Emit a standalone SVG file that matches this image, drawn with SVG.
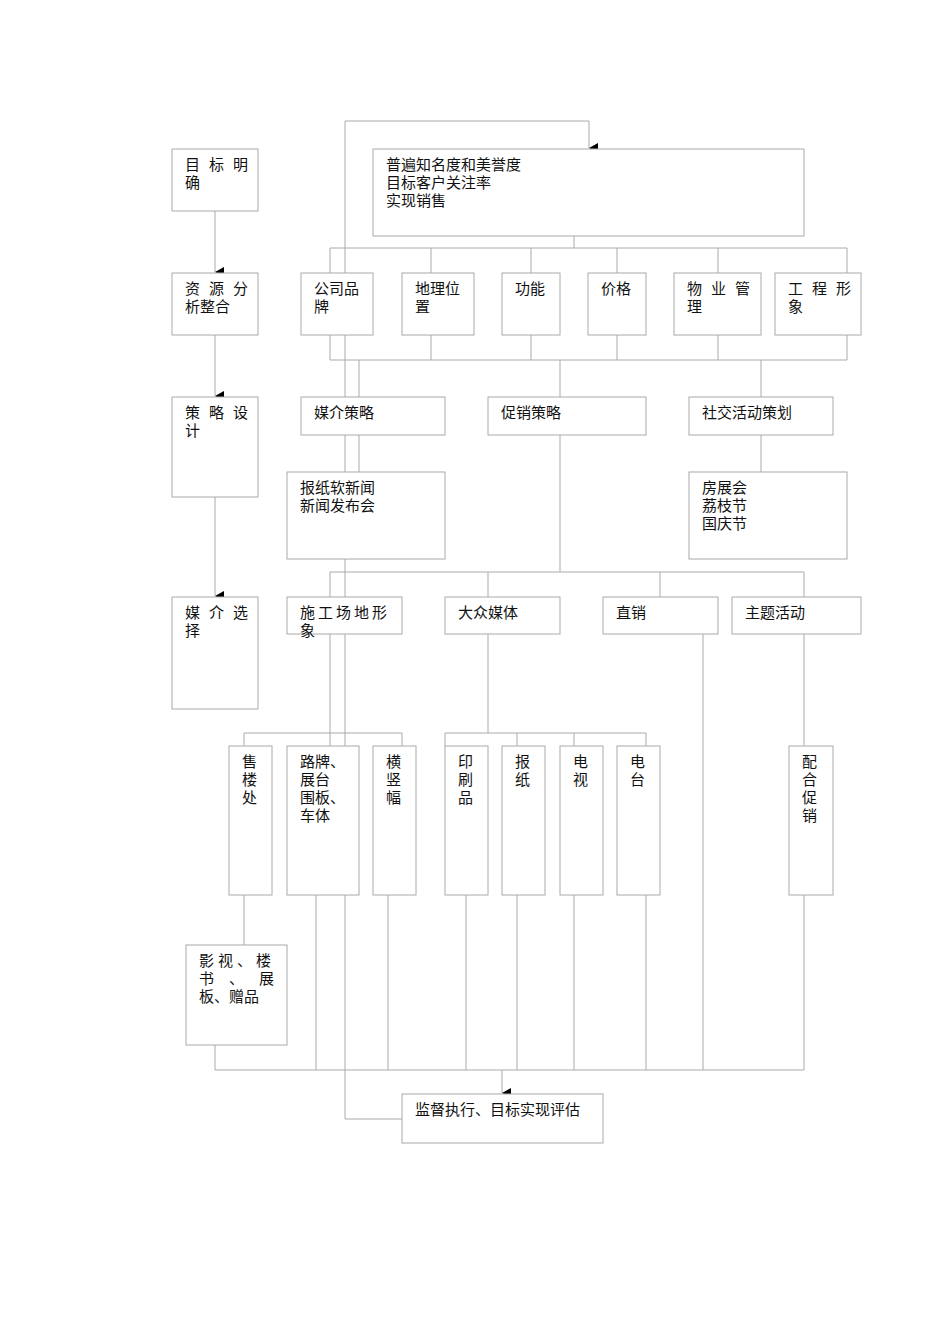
<svg xmlns="http://www.w3.org/2000/svg" width="950" height="1344" viewBox="0 0 950 1344">
<style>
rect{fill:#fff;stroke:#aaa;stroke-width:1}
line,polyline{stroke:#aaa;stroke-width:1;fill:none}
text{font-family:"Liberation Serif","Noto Sans CJK SC",serif;font-size:15px;fill:#111}
</style>
<defs><marker id="a" markerWidth="10" markerHeight="10" refX="5" refY="9" orient="auto" markerUnits="userSpaceOnUse"><path d="M0,0 L10,0 L5,9 Z" fill="#000"/></marker></defs>
<rect x="0" y="0" width="950" height="1344" style="stroke:none"/>
<g id="connectors">
<polyline points="402,1119 345,1119 345,121 589,121 589,148" marker-end="url(#a)"/>
<line x1="215" y1="211" x2="215" y2="272" marker-end="url(#a)"/>
<line x1="215" y1="335" x2="215" y2="396" marker-end="url(#a)"/>
<line x1="215" y1="497" x2="215" y2="596" marker-end="url(#a)"/>
<line x1="574" y1="236" x2="574" y2="248"/>
<line x1="330" y1="248" x2="847" y2="248"/>
<line x1="330" y1="248" x2="330" y2="273"/><line x1="431" y1="248" x2="431" y2="273"/><line x1="531" y1="248" x2="531" y2="273"/><line x1="617" y1="248" x2="617" y2="273"/><line x1="718" y1="248" x2="718" y2="273"/><line x1="847" y1="248" x2="847" y2="273"/>
<line x1="330" y1="335" x2="330" y2="360"/><line x1="431" y1="335" x2="431" y2="360"/><line x1="531" y1="335" x2="531" y2="360"/><line x1="617" y1="335" x2="617" y2="360"/><line x1="718" y1="335" x2="718" y2="360"/><line x1="847" y1="335" x2="847" y2="360"/>
<line x1="330" y1="360" x2="847" y2="360"/>
<line x1="359" y1="360" x2="359" y2="397"/><line x1="560" y1="360" x2="560" y2="397"/><line x1="761" y1="360" x2="761" y2="397"/>
<line x1="359" y1="435" x2="359" y2="472"/>
<line x1="761" y1="435" x2="761" y2="472"/>
<line x1="560" y1="435" x2="560" y2="572"/>
<line x1="330" y1="572" x2="804" y2="572"/>
<line x1="330" y1="572" x2="330" y2="597"/><line x1="488" y1="572" x2="488" y2="597"/><line x1="660" y1="572" x2="660" y2="597"/><line x1="804" y1="572" x2="804" y2="597"/>
<line x1="330" y1="634" x2="330" y2="746"/>
<line x1="244" y1="733" x2="402" y2="733"/>
<line x1="244" y1="733" x2="244" y2="746"/><line x1="402" y1="733" x2="402" y2="746"/>
<line x1="488" y1="634" x2="488" y2="733"/>
<line x1="445" y1="733" x2="646" y2="733"/>
<line x1="445" y1="733" x2="445" y2="746"/><line x1="517" y1="733" x2="517" y2="746"/><line x1="574" y1="733" x2="574" y2="746"/><line x1="646" y1="733" x2="646" y2="746"/>
<line x1="703" y1="634" x2="703" y2="1070"/>
<line x1="804" y1="634" x2="804" y2="746"/>
<line x1="244" y1="895" x2="244" y2="945"/>
<line x1="215" y1="1045" x2="215" y2="1070"/>
<line x1="316" y1="895" x2="316" y2="1070"/><line x1="388" y1="895" x2="388" y2="1070"/><line x1="466" y1="895" x2="466" y2="1070"/><line x1="517" y1="895" x2="517" y2="1070"/><line x1="574" y1="895" x2="574" y2="1070"/><line x1="646" y1="895" x2="646" y2="1070"/><line x1="804" y1="895" x2="804" y2="1070"/>
<line x1="215" y1="1070" x2="804" y2="1070"/>
<line x1="502" y1="1070" x2="502" y2="1093" marker-end="url(#a)"/>
</g>
<g id="n1"><rect x="172" y="149" width="86" height="62"/><text x="185" y="170" letter-spacing="9">目标明</text><text x="185" y="188">确</text></g>
<g id="n2"><rect x="373" y="149" width="431" height="87"/><text x="386" y="170">普遍知名度和美誉度</text><text x="386" y="188">目标客户关注率</text><text x="386" y="206">实现销售</text></g>
<g id="n3"><rect x="172" y="273" width="86" height="62"/><text x="185" y="294" letter-spacing="9">资源分</text><text x="185" y="312">析整合</text></g>
<g id="n4"><rect x="301" y="273" width="72" height="62"/><text x="314" y="294">公司品</text><text x="314" y="312">牌</text></g>
<g id="n5"><rect x="402" y="273" width="72" height="62"/><text x="415" y="294">地理位</text><text x="415" y="312">置</text></g>
<g id="n6"><rect x="502" y="273" width="58" height="62"/><text x="515" y="294">功能</text></g>
<g id="n7"><rect x="588" y="273" width="58" height="62"/><text x="601" y="294">价格</text></g>
<g id="n8"><rect x="674" y="273" width="87" height="62"/><text x="687" y="294" letter-spacing="9">物业管</text><text x="687" y="312">理</text></g>
<g id="n9"><rect x="775" y="273" width="86" height="62"/><text x="788" y="294" letter-spacing="9">工程形</text><text x="788" y="312">象</text></g>
<g id="n10"><rect x="172" y="397" width="86" height="100"/><text x="185" y="418" letter-spacing="9">策略设</text><text x="185" y="436">计</text></g>
<g id="n11"><rect x="301" y="397" width="144" height="38"/><text x="314" y="418">媒介策略</text></g>
<g id="n12"><rect x="488" y="397" width="158" height="38"/><text x="501" y="418">促销策略</text></g>
<g id="n13"><rect x="689" y="397" width="144" height="38"/><text x="702" y="418">社交活动策划</text></g>
<g id="n14"><rect x="287" y="472" width="158" height="87"/><text x="300" y="493">报纸软新闻</text><text x="300" y="511">新闻发布会</text></g>
<g id="n15"><rect x="689" y="472" width="158" height="87"/><text x="702" y="493">房展会</text><text x="702" y="511">荔枝节</text><text x="702" y="529">国庆节</text></g>
<g id="n16"><rect x="172" y="597" width="86" height="112"/><text x="185" y="618" letter-spacing="9">媒介选</text><text x="185" y="636">择</text></g>
<g id="n17"><rect x="287" y="597" width="115" height="37"/><text x="300" y="618" letter-spacing="3">施工场地形</text><text x="300" y="636">象</text></g>
<g id="n18"><rect x="445" y="597" width="115" height="37"/><text x="458" y="618">大众媒体</text></g>
<g id="n19"><rect x="603" y="597" width="115" height="37"/><text x="616" y="618">直销</text></g>
<g id="n20"><rect x="732" y="597" width="129" height="37"/><text x="745" y="618">主题活动</text></g>
<g id="n21"><rect x="229" y="746" width="43" height="149"/><text x="242" y="767">售</text><text x="242" y="785">楼</text><text x="242" y="803">处</text></g>
<g id="n22"><rect x="287" y="746" width="72" height="149"/><text x="300" y="767">路牌、</text><text x="300" y="785">展台</text><text x="300" y="803">围板、</text><text x="300" y="821">车体</text></g>
<g id="n23"><rect x="373" y="746" width="43" height="149"/><text x="386" y="767">横</text><text x="386" y="785">竖</text><text x="386" y="803">幅</text></g>
<g id="n24"><rect x="445" y="746" width="43" height="149"/><text x="458" y="767">印</text><text x="458" y="785">刷</text><text x="458" y="803">品</text></g>
<g id="n25"><rect x="502" y="746" width="43" height="149"/><text x="515" y="767">报</text><text x="515" y="785">纸</text></g>
<g id="n26"><rect x="560" y="746" width="43" height="149"/><text x="573" y="767">电</text><text x="573" y="785">视</text></g>
<g id="n27"><rect x="617" y="746" width="43" height="149"/><text x="630" y="767">电</text><text x="630" y="785">台</text></g>
<g id="n28"><rect x="789" y="746" width="44" height="149"/><text x="802" y="767">配</text><text x="802" y="785">合</text><text x="802" y="803">促</text><text x="802" y="821">销</text></g>
<g id="n29"><rect x="186" y="945" width="101" height="100"/><text x="199" y="966" letter-spacing="4">影视、楼</text><text x="199" y="984" letter-spacing="15">书、展</text><text x="199" y="1002">板、赠品</text></g>
<g id="n30"><rect x="402" y="1094" width="201" height="49"/><text x="415" y="1115">监督执行、目标实现评估</text></g>
</svg>
